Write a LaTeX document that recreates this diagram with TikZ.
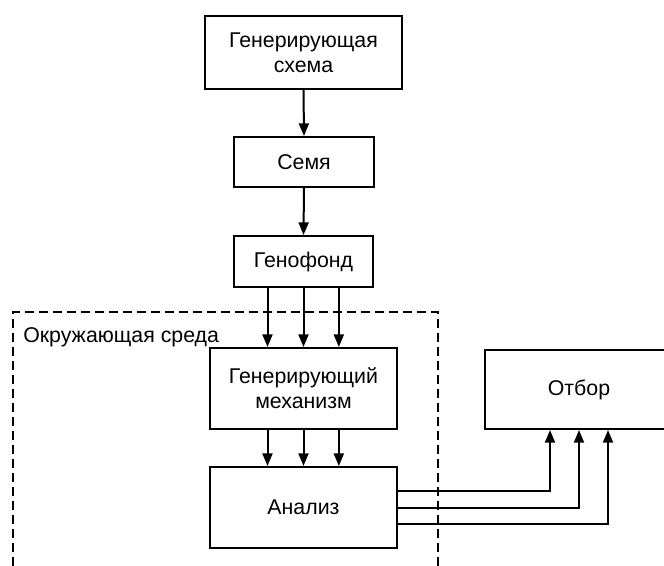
\documentclass[tikz,border=0pt]{standalone}
\usepackage{fontspec}
\setmainfont{Liberation Sans}
\usetikzlibrary{arrows.meta}
\begin{document}
\begin{tikzpicture}[x=0.75pt,y=-0.75pt,
  box/.style={draw,line width=1.5pt,align=center,inner sep=0pt,
    font=\fontsize{16}{18.8}\selectfont},
  arr/.style={line width=1.5pt,-{Triangle[length=9.5pt,width=7.5pt]}},
  env/.style={line width=1.5pt,dash pattern=on 6.5pt off 4pt}]
\useasboundingbox (0,0) rectangle (664,566);
\clip (0,0) rectangle (664,566);
\node[box,minimum width=147.75pt,minimum height=54.75pt] (schema) at (303.5,52.5) {Генерирующая\\схема};
\node[box,minimum width=105pt,minimum height=37.5pt] (semya) at (304,162) {Семя};
\node[box,minimum width=104.25pt,minimum height=38.25pt] (genof) at (303.5,261.5) {Генофонд};
\node[box,minimum width=140.25pt,minimum height=60.75pt] (mech) at (303.5,388.5) {Генерирующий\\механизм};
\node[box,minimum width=140.25pt,minimum height=60.75pt] (anal) at (303.5,507.5) {Анализ};
\node[box,minimum width=141pt,minimum height=59.25pt] (otbor) at (579,389.5) {Отбор};
\coordinate (envtl) at (13,312);
\coordinate (envtr) at (438,312);
\coordinate (envbl) at (13,580);
\coordinate (envbr) at (438,580);
\draw[env] (envbl) -- (envtl) -- (envtr) -- (envbr);
\node[anchor=base west,inner sep=0pt,font=\fontsize{16}{18.8}\selectfont] (envlabel) at (23,343) {Окружающая среда};
\draw[arr] (schema.south) -- (semya.north);
\draw[arr] (semya.south) -- (genof.north);
\draw[arr] ([xshift=-27pt]genof.south) -- ([xshift=-27pt]genof.south |- mech.north);
\draw[arr] (genof.south) -- (genof.south |- mech.north);
\draw[arr] ([xshift=26.5pt]genof.south) -- ([xshift=26.5pt]genof.south |- mech.north);
\draw[arr] ([xshift=-27pt]mech.south) -- ([xshift=-27pt]anal.north);
\draw[arr] (mech.south) -- (anal.north);
\draw[arr] ([xshift=26.5pt]mech.south) -- ([xshift=26.5pt]anal.north);
\draw[arr] ([yshift=12.4pt]anal.east) -| ([xshift=-21.75pt]otbor.south);
\draw[arr] (anal.east) -| (otbor.south);
\draw[arr] ([yshift=-12.4pt]anal.east) -| ([xshift=21.75pt]otbor.south);
\end{tikzpicture}
\end{document}
